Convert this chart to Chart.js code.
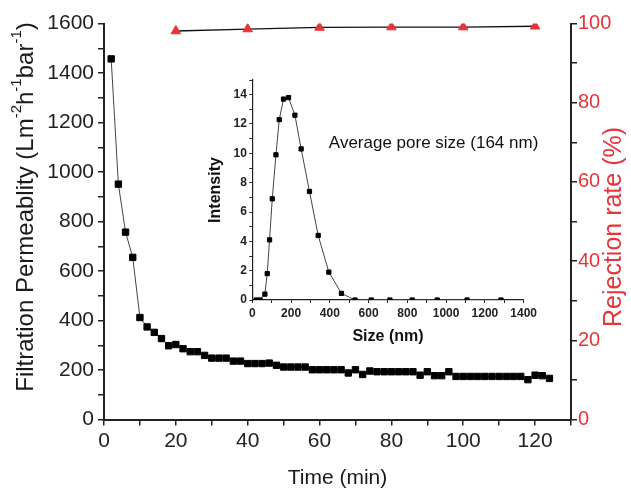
<!DOCTYPE html>
<html>
<head>
<meta charset="utf-8">
<script src="https://cdn.jsdelivr.net/npm/chart.js"></script>
<style>
  html, body { margin: 0; padding: 0; background: #fff; }
  #wrap { position: relative; width: 631px; height: 496px; }
  #main { position: absolute; left: 0; top: 0; }
  #inset { position: absolute; left: 190px; top: 70px; }
</style>
</head>
<body>
<div id="wrap">
  <canvas id="main" width="631" height="496"></canvas>
  <canvas id="inset" width="350" height="285"></canvas>
</div>
<script>
// Permeação ao longo do tempo (eixo esquerdo)
const timeMin = [2, 4, 6, 8, 10, 12, 14, 16, 18, 20, 22, 24, 26, 28, 30, 32, 34, 36, 38, 40,
  42, 44, 46, 48, 50, 52, 54, 56, 58, 60, 62, 64, 66, 68, 70, 72, 74, 76, 78, 80,
  82, 84, 86, 88, 90, 92, 94, 96, 98, 100, 102, 104, 106, 108, 110, 112, 114, 116, 118, 120,
  122, 124]
const permeability = [1457, 951, 757, 655, 412, 374, 352, 327, 298, 303, 286, 274, 274, 259, 248, 248, 248, 236, 236, 226,
  226, 226, 228, 219, 212, 212, 212, 212, 201, 201, 201, 201, 201, 188, 201, 182, 196, 193, 193, 193,
  193, 193, 193, 179, 193, 177, 177, 193, 174, 174, 174, 174, 174, 174, 174, 174, 174, 174, 161, 179,
  177, 166]

// Rejeição (eixo direito)
const rejTime = [20, 40, 60, 80, 100, 120]
const rejection = [98.1, 98.6, 99.0, 99.1, 99.1, 99.3]

// Distribuição de poros (inset)
const poreSize = [20, 40, 65, 77, 89, 103, 122, 139, 161, 187, 220, 252, 295, 340, 395, 460, 530, 614, 710, 825, 954, 1108, 1283]
const intensity = [0, 0, 0.4, 1.8, 4.1, 6.9, 9.9, 12.3, 13.7, 13.8, 12.6, 10.3, 7.4, 4.4, 1.9, 0.45, 0, 0, 0, 0, 0, 0, 0]

const RED = "#e5343a"
const INK = "#222"
const FONT = "'Liberation Sans', Arial, sans-serif"

const leftTitle = [
  ["Filtration Permeablity (Lm", false], ["-2", true], ["h", false], ["-1", true],
  ["bar", false], ["-1", true], [")", false]
]

// desenha texto vertical (de baixo pra cima) com partes sobrescritas
function drawVertical(ctx, x, y, parts, color, size) {
  const big = `${size}px ${FONT}`
  const small = `${Math.round(size * 0.62)}px ${FONT}`
  ctx.save()
  let total = 0
  parts.forEach(([t, sup]) => { ctx.font = sup ? small : big; total += ctx.measureText(t).width })
  ctx.translate(x, y)
  ctx.rotate(-Math.PI / 2)
  ctx.fillStyle = color
  ctx.textBaseline = "middle"
  ctx.textAlign = "left"
  let pos = -total / 2
  parts.forEach(([t, sup]) => {
    ctx.font = sup ? small : big
    ctx.fillText(t, pos, sup ? -size * 0.38 : 0)
    pos += ctx.measureText(t).width
  })
  ctx.restore()
}

const sideTitles = {
  id: "sideTitles",
  afterDraw(chart) {
    drawVertical(chart.ctx, 26, 207, leftTitle, "#1a1a1a", 24)
    drawVertical(chart.ctx, 614, 227, [["Rejection rate (%)", false]], RED, 25)
  }
}

const tickGrid = { display: true, drawOnChartArea: false, drawTicks: true, tickLength: 6, color: INK, lineWidth: 1.5 }

new Chart(document.getElementById("main"), {
  type: "line",
  data: {
    datasets: [
      {
        label: "Permeability",
        data: timeMin.map((t, i) => ({ x: t, y: permeability[i] })),
        yAxisID: "y",
        borderColor: "#444",
        borderWidth: 1,
        pointStyle: "rect",
        pointRadius: 4.5,
        pointBackgroundColor: "#000",
        pointBorderColor: "#000",
        pointBorderWidth: 1,
        tension: 0
      },
      {
        label: "Rejection",
        data: rejTime.map((t, i) => ({ x: t, y: rejection[i] })),
        yAxisID: "y2",
        borderColor: "#111",
        borderWidth: 1.3,
        pointStyle: "triangle",
        pointRadius: 5.5,
        pointBackgroundColor: RED,
        pointBorderColor: RED,
        pointBorderWidth: 1,
        tension: 0
      }
    ]
  },
  options: {
    responsive: false,
    animation: false,
    layout: { padding: { top: 23.5, left: 0, right: 0, bottom: 0 } },
    plugins: { legend: { display: false }, tooltip: { enabled: false } },
    scales: {
      x: {
        type: "linear", min: 0, max: 130,
        afterFit: (s) => { s.height = 76.5 },
        ticks: { stepSize: 10, autoSkip: false, maxRotation: 0, padding: 3, color: INK,
          font: { size: 21, family: FONT }, callback: (v) => (v % 20 === 0 && v <= 120 ? v : "") },
        grid: tickGrid,
        border: { color: INK, width: 2 },
        title: { display: true, text: "Time (min)", color: "#1a1a1a", font: { size: 21, family: FONT },
          padding: { top: 0, bottom: 5 } }
      },
      y: {
        position: "left", min: 0, max: 1600,
        afterFit: (s) => { s.width = 104 },
        ticks: { stepSize: 100, autoSkip: false, padding: 4, color: INK,
          font: { size: 21, family: FONT }, callback: (v) => (v % 200 === 0 ? v : "") },
        grid: tickGrid,
        border: { color: INK, width: 2 }
      },
      y2: {
        position: "right", min: 0, max: 100,
        afterFit: (s) => { s.width = 60 },
        ticks: { stepSize: 10, autoSkip: false, padding: 1, color: RED,
          font: { size: 20, family: FONT }, callback: (v) => (v % 20 === 0 ? v : "") },
        grid: tickGrid,
        border: { color: INK, width: 2 }
      }
    }
  },
  plugins: [sideTitles]
})

// texto do inset, posicionado pelas escalas
const poreLabel = {
  id: "poreLabel",
  afterDraw(chart) {
    const { ctx, scales } = chart
    ctx.save()
    ctx.font = `17px ${FONT}`
    ctx.fillStyle = "#111"
    ctx.textBaseline = "middle"
    ctx.fillText("Average pore size (164 nm)", scales.x.getPixelForValue(395), scales.y.getPixelForValue(10.7))
    ctx.restore()
  }
}

const insetGrid = { display: true, drawOnChartArea: false, drawTicks: true, tickLength: 3, color: INK, lineWidth: 1 }

new Chart(document.getElementById("inset"), {
  type: "line",
  data: {
    datasets: [{
      label: "Intensity",
      data: poreSize.map((s, i) => ({ x: s, y: intensity[i] })),
      borderColor: "#444",
      borderWidth: 1,
      pointStyle: "rect",
      pointRadius: 3,
      pointBackgroundColor: "#000",
      pointBorderColor: "#000",
      pointBorderWidth: 1,
      tension: 0
    }]
  },
  options: {
    responsive: false,
    animation: false,
    layout: { padding: { top: 10, right: 15.7, left: 0, bottom: 0 } },
    plugins: { legend: { display: false }, tooltip: { enabled: false } },
    scales: {
      x: {
        type: "linear", min: 0, max: 1400,
        afterFit: (s) => { s.height = 55 },
        ticks: { stepSize: 100, autoSkip: false, maxRotation: 0, padding: 3, color: INK,
          font: { size: 12, weight: "bold", family: FONT }, callback: (v) => (v % 200 === 0 ? v : "") },
        grid: insetGrid,
        border: { color: INK, width: 1.2 },
        title: { display: true, text: "Size (nm)", color: "#111", font: { size: 16, weight: "bold", family: FONT },
          padding: { top: 0, bottom: 9 } }
      },
      y: {
        min: 0, max: 15,
        afterFit: (s) => { s.width = 62.3 },
        ticks: { stepSize: 1, autoSkip: false, padding: 2.5, color: INK,
          font: { size: 12, weight: "bold", family: FONT }, callback: (v) => (v % 2 === 0 && v <= 14 ? v : "") },
        grid: insetGrid,
        border: { color: INK, width: 1.2 },
        title: { display: true, text: "Intensity", color: "#111", font: { size: 16, weight: "bold", family: FONT },
          padding: { top: 16, bottom: 0 } }
      }
    }
  },
  plugins: [poreLabel]
})
</script>
</body>
</html>
